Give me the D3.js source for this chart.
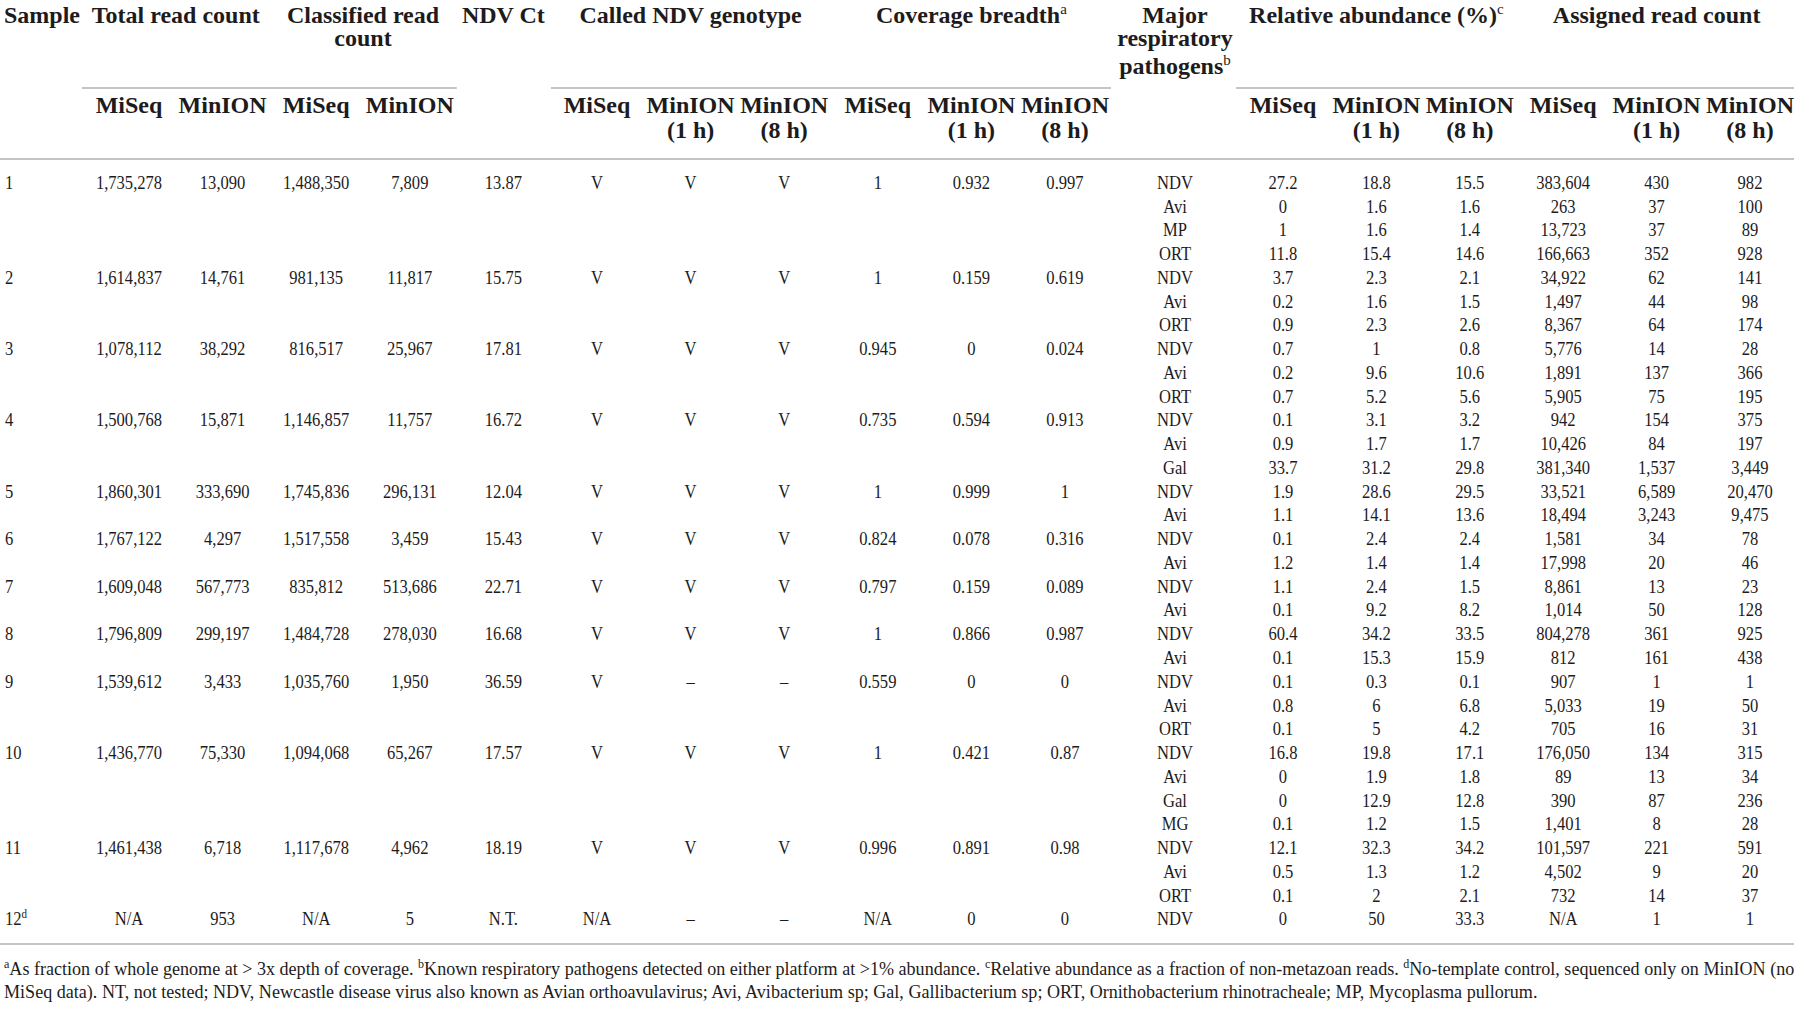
<!DOCTYPE html>
<html><head><meta charset="utf-8">
<script src="https://cdn.jsdelivr.net/npm/d3@7"></script>
<style>html,body{margin:0;padding:0;background:#fff;} svg{display:block;}</style>
</head><body><svg id="c" width="1802" height="1009"></svg>
<script>
// ---------- DATA ----------
const sampleIds = ["1","2","3","4","5","6","7","8","9","10","11","12"];
const sampleSup = ["","","","","","","","","","","","d"];
const totalMiSeq = [1735278,1614837,1078112,1500768,1860301,1767122,1609048,1796809,1539612,1436770,1461438,null];
const totalMinION = [13090,14761,38292,15871,333690,4297,567773,299197,3433,75330,6718,953];
const classMiSeq = [1488350,981135,816517,1146857,1745836,1517558,835812,1484728,1035760,1094068,1117678,null];
const classMinION = [7809,11817,25967,11757,296131,3459,513686,278030,1950,65267,4962,5];
const ndvCt = [13.87,15.75,17.81,16.72,12.04,15.43,22.71,16.68,36.59,17.57,18.19,null];
const calledMiSeq = ["V","V","V","V","V","V","V","V","V","V","V","N/A"];
const called1h = ["V","V","V","V","V","V","V","V","–","V","V","–"];
const called8h = ["V","V","V","V","V","V","V","V","–","V","V","–"];
const covMiSeq = [1,1,0.945,0.735,1,0.824,0.797,1,0.559,1,0.996,null];
const cov1h = [0.932,0.159,0,0.594,0.999,0.078,0.159,0.866,0,0.421,0.891,0];
const cov8h = [0.997,0.619,0.024,0.913,1,0.316,0.089,0.987,0,0.87,0.98,0];
const pathogensPerSample = [4,3,3,3,2,2,2,2,3,4,3,1];
const pathogens = ["NDV","Avi","MP","ORT","NDV","Avi","ORT","NDV","Avi","ORT","NDV","Avi","Gal","NDV","Avi","NDV","Avi","NDV","Avi","NDV","Avi","NDV","Avi","ORT","NDV","Avi","Gal","MG","NDV","Avi","ORT","NDV"];
const relMiSeq = [27.2,0,1,11.8,3.7,0.2,0.9,0.7,0.2,0.7,0.1,0.9,33.7,1.9,1.1,0.1,1.2,1.1,0.1,60.4,0.1,0.1,0.8,0.1,16.8,0,0,0.1,12.1,0.5,0.1,0];
const rel1h = [18.8,1.6,1.6,15.4,2.3,1.6,2.3,1,9.6,5.2,3.1,1.7,31.2,28.6,14.1,2.4,1.4,2.4,9.2,34.2,15.3,0.3,6,5,19.8,1.9,12.9,1.2,32.3,1.3,2,50];
const rel8h = [15.5,1.6,1.4,14.6,2.1,1.5,2.6,0.8,10.6,5.6,3.2,1.7,29.8,29.5,13.6,2.4,1.4,1.5,8.2,33.5,15.9,0.1,6.8,4.2,17.1,1.8,12.8,1.5,34.2,1.2,2.1,33.3];
const asgMiSeq = [383604,263,13723,166663,34922,1497,8367,5776,1891,5905,942,10426,381340,33521,18494,1581,17998,8861,1014,804278,812,907,5033,705,176050,89,390,1401,101597,4502,732,null];
const asg1h = [430,37,37,352,62,44,64,14,137,75,154,84,1537,6589,3243,34,20,13,50,361,161,1,19,16,134,13,87,8,221,9,14,1];
const asg8h = [982,100,89,928,141,98,174,28,366,195,375,197,3449,20470,9475,78,46,23,128,925,438,1,50,31,315,34,236,28,591,20,37,1];

const subHeaders = ["MiSeq","MinION","MiSeq","MinION","","MiSeq","MinION|(1 h)","MinION|(8 h)","MiSeq","MinION|(1 h)","MinION|(8 h)"];
const subHeadersB = ["MiSeq","MinION|(1 h)","MinION|(8 h)","MiSeq","MinION|(1 h)","MinION|(8 h)"];
const footnote1 = [["a","As fraction of whole genome at > 3x depth of coverage. "],["b","Known respiratory pathogens detected on either platform at >1% abundance. "],["c","Relative abundance as a fraction of non-metazoan reads. "],["d","No-template control, sequenced only on MinION (no"]];
const footnote2 = "MiSeq data). NT, not tested; NDV, Newcastle disease virus also known as Avian orthoavulavirus; Avi, Avibacterium sp; Gal, Gallibacterium sp; ORT, Ornithobacterium rhinotracheale; MP, Mycoplasma pullorum.";

// ---------- LAYOUT ----------
const W = 1802, H = 1009;
const svg = d3.select("#c");
svg.append("rect").attr("width",W).attr("height",H).attr("fill","#fff");
const SERIF = "'Liberation Serif','Times New Roman',serif";
const INK = "#1d1b1c";
const RULE = "#c4c4c4";
const keysA = ["totMi","totMn","clsMi","clsMn","ct","calMi","cal1","cal8","covMi","cov1","cov8"];
const keysB = ["relMi","rel1","rel8","asgMi","asg1","asg8"];
const xA = d3.scalePoint().domain(keysA).range([129,1065]);
const xB = d3.scalePoint().domain(keysB).range([1283,1750]);
const xMajor = 1175, xSample = 5;
const nRows = pathogens.length;
const y = d3.scaleLinear().domain([0,nRows-1]).range([182,918.5]);
const tableRight = 1794;

const fmtInt = d3.format(",");
const fmtCt = d3.format(".2f");
const intOrNA = v => v==null ? "N/A" : fmtInt(v);
const numOrNA = v => v==null ? "N/A" : String(v);

// rules
const rules = [
  [0, tableRight, 159],
  [0, tableRight, 944],
  [xA("totMi")-47, xA("clsMn")+47, 88],
  [xA("calMi")-46, xA("cov8")+46, 88],
  [xB("relMi")-47, tableRight, 88]
];
svg.selectAll("line.rule").data(rules).join("line").attr("class","rule")
  .attr("x1",d=>d[0]).attr("x2",d=>d[1]).attr("y1",d=>d[2]).attr("y2",d=>d[2])
  .attr("stroke",RULE).attr("stroke-width",2);

// header helper
function head(x, yy, txt, sup, anchor){
  const t = svg.append("text").attr("x",x).attr("y",yy).attr("dy","0.35em")
    .attr("text-anchor",anchor||"middle").attr("font-family",SERIF)
    .attr("font-weight","bold").attr("font-size",24).attr("fill",INK).text(txt);
  if(sup){
    t.append("tspan").attr("dy",-9).attr("font-size",15).attr("font-weight","normal").text(sup);
  }
  return t;
}
head(4,15,"Sample",null,"start");
head((xA("totMi")+xA("totMn"))/2,15,"Total read count");
head((xA("clsMi")+xA("clsMn"))/2,15,"Classified read");
head((xA("clsMi")+xA("clsMn"))/2,38,"count");
head(xA("ct"),15,"NDV Ct");
head(xA("cal1"),15,"Called NDV genotype");
head(xA("cov1"),15,"Coverage breadth","a");
head(xMajor,15,"Major");
head(xMajor,38,"respiratory");
head(xMajor,66,"pathogens","b");
head(xB("rel1"),15,"Relative abundance (%)","c");
head((xB("asgMi")+xB("asg8"))/2,15,"Assigned read count");

function sub(x, s){
  if(!s) return;
  const parts = s.split("|");
  head(x,105,parts[0]);
  if(parts[1]) head(x,130,parts[1]);
}
keysA.forEach((k,i)=>sub(xA(k),subHeaders[i]));
keysB.forEach((k,i)=>sub(xB(k),subHeadersB[i]));

// data cells
const SX = 0.85, FS = 19.5;
function cell(x, yy, txt, anchor){
  return svg.append("text").attr("transform",`translate(${x},${yy}) scale(${SX},1)`)
    .attr("dy","0.35em").attr("text-anchor",anchor||"middle")
    .attr("font-family",SERIF).attr("font-size",FS).attr("fill",INK).text(txt);
}
// first row index for each sample
const firstRow = d3.cumsum([0].concat(pathogensPerSample.slice(0,-1)));
sampleIds.forEach((id,i)=>{
  const yy = y(firstRow[i]);
  const t = cell(xSample, yy, id, "start");
  if(sampleSup[i]) t.append("tspan").attr("dy",-7).attr("font-size",13).text(sampleSup[i]);
  cell(xA("totMi"),yy,intOrNA(totalMiSeq[i]));
  cell(xA("totMn"),yy,intOrNA(totalMinION[i]));
  cell(xA("clsMi"),yy,intOrNA(classMiSeq[i]));
  cell(xA("clsMn"),yy,intOrNA(classMinION[i]));
  cell(xA("ct"),yy,ndvCt[i]==null?"N.T.":fmtCt(ndvCt[i]));
  cell(xA("calMi"),yy,calledMiSeq[i]);
  cell(xA("cal1"),yy,called1h[i]);
  cell(xA("cal8"),yy,called8h[i]);
  cell(xA("covMi"),yy,numOrNA(covMiSeq[i]));
  cell(xA("cov1"),yy,numOrNA(cov1h[i]));
  cell(xA("cov8"),yy,numOrNA(cov8h[i]));
});
pathogens.forEach((p,j)=>{
  const yy = y(j);
  cell(xMajor,yy,p);
  cell(xB("relMi"),yy,numOrNA(relMiSeq[j]));
  cell(xB("rel1"),yy,numOrNA(rel1h[j]));
  cell(xB("rel8"),yy,numOrNA(rel8h[j]));
  cell(xB("asgMi"),yy,intOrNA(asgMiSeq[j]));
  cell(xB("asg1"),yy,intOrNA(asg1h[j]));
  cell(xB("asg8"),yy,intOrNA(asg8h[j]));
});

// footnotes
const FN = 19.5;
const f1 = svg.append("text").attr("font-family",SERIF).attr("font-size",FN).attr("fill",INK);
footnote1.forEach(([s,t],i)=>{
  f1.append("tspan").attr("dy", i===0 ? 0 : -7).attr("font-size",13).text(s);
  f1.append("tspan").attr("dy",7).text(t);
});
f1.select("tspan").attr("dy",-7);
const len1 = f1.node().getComputedTextLength();
const fsx = (1795-4)/len1;
f1.attr("transform",`translate(4,975) scale(${fsx},1)`);
svg.append("text").attr("font-family",SERIF).attr("font-size",FN).attr("fill",INK)
  .attr("transform",`translate(4,998) scale(${fsx},1)`).text(footnote2);
</script></body></html>
